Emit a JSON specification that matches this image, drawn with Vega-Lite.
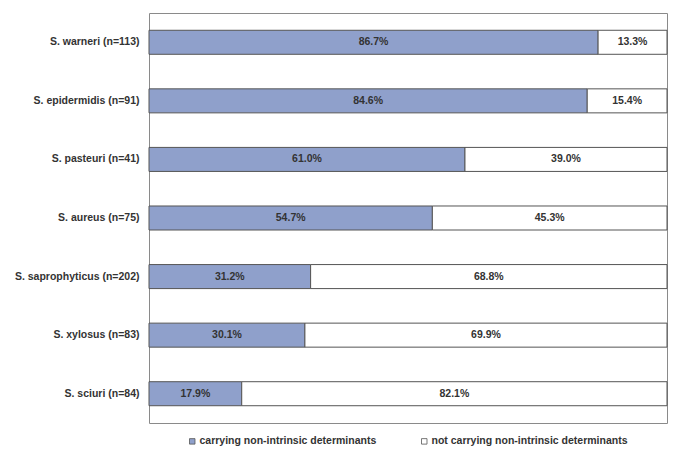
{
  "$schema": "https://vega.github.io/schema/vega-lite/v6.json",
  "width": 518,
  "height": 410,
  "autosize": "none",
  "padding": {"left": 149, "top": 13, "right": 13, "bottom": 37},
  "background": "white",
  "config": {
    "view": {"stroke": "#8a8a8a", "strokeWidth": 1},
    "font": "Liberation Sans"
  },
  "data": {
    "values": [
      {"species": "S. warneri (n=113)", "cat": "carrying non-intrinsic determinants", "value": 0.867},
      {"species": "S. warneri (n=113)", "cat": "not carrying non-intrinsic determinants", "value": 0.133},
      {"species": "S. epidermidis (n=91)", "cat": "carrying non-intrinsic determinants", "value": 0.846},
      {"species": "S. epidermidis (n=91)", "cat": "not carrying non-intrinsic determinants", "value": 0.154},
      {"species": "S. pasteuri (n=41)", "cat": "carrying non-intrinsic determinants", "value": 0.610},
      {"species": "S. pasteuri (n=41)", "cat": "not carrying non-intrinsic determinants", "value": 0.390},
      {"species": "S. aureus (n=75)", "cat": "carrying non-intrinsic determinants", "value": 0.547},
      {"species": "S. aureus (n=75)", "cat": "not carrying non-intrinsic determinants", "value": 0.453},
      {"species": "S. saprophyticus (n=202)", "cat": "carrying non-intrinsic determinants", "value": 0.312},
      {"species": "S. saprophyticus (n=202)", "cat": "not carrying non-intrinsic determinants", "value": 0.688},
      {"species": "S. xylosus (n=83)", "cat": "carrying non-intrinsic determinants", "value": 0.301},
      {"species": "S. xylosus (n=83)", "cat": "not carrying non-intrinsic determinants", "value": 0.699},
      {"species": "S. sciuri (n=84)", "cat": "carrying non-intrinsic determinants", "value": 0.179},
      {"species": "S. sciuri (n=84)", "cat": "not carrying non-intrinsic determinants", "value": 0.821}
    ]
  },
  "transform": [
    {"stack": "value", "groupby": ["species"], "sort": [{"field": "cat", "order": "ascending"}], "as": ["x0", "x1"]},
    {"calculate": "(datum.x0 + datum.x1) / 2", "as": "mid"}
  ],
  "encoding": {
    "y": {
      "field": "species",
      "type": "nominal",
      "sort": null,
      "scale": {"paddingInner": 0.59, "paddingOuter": 0.295},
      "axis": {
        "title": null,
        "ticks": false,
        "domain": false,
        "labelPadding": 10,
        "labelFont": "Liberation Sans",
        "labelFontSize": 10.5,
        "labelFontWeight": "bold",
        "labelColor": "#333333"
      }
    }
  },
  "layer": [
    {
      "mark": {"type": "bar", "stroke": "#555555", "strokeWidth": 1},
      "encoding": {
        "x": {
          "field": "x0",
          "type": "quantitative",
          "scale": {"domain": [0, 1], "nice": false},
          "axis": null
        },
        "x2": {"field": "x1"},
        "fill": {
          "field": "cat",
          "type": "nominal",
          "scale": {
            "domain": ["carrying non-intrinsic determinants", "not carrying non-intrinsic determinants"],
            "range": ["#8fa0cb", "#ffffff"]
          },
          "legend": {
            "title": null,
            "orient": "none",
            "legendX": 38,
            "legendY": 423,
            "direction": "horizontal",
            "symbolType": "square",
            "symbolSize": 30,
            "symbolStrokeColor": "#555555",
            "symbolStrokeWidth": 0.8,
            "labelFont": "Liberation Sans",
            "labelFontSize": 10.5,
            "labelFontWeight": "bold",
            "labelColor": "#333333",
            "labelOffset": 2,
            "columnPadding": 42,
            "labelLimit": 300
          }
        }
      }
    },
    {
      "mark": {"type": "text", "font": "Liberation Sans", "fontSize": 10.5, "fontWeight": "bold", "color": "#333333"},
      "encoding": {
        "x": {"field": "mid", "type": "quantitative"},
        "text": {"field": "value", "type": "quantitative", "format": ".1%"}
      }
    }
  ]
}
